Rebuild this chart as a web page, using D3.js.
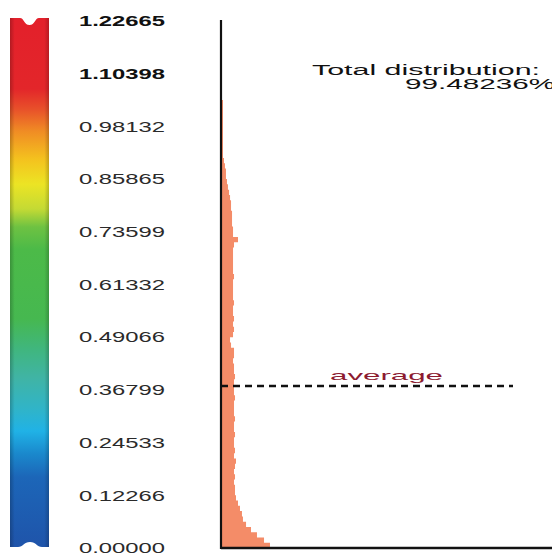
<!DOCTYPE html>
<html lang="en">
<head>
  <meta charset="UTF-8">
  <title>Total distribution</title>
  <script src="https://cdn.jsdelivr.net/npm/d3@7"></script>
  <style>
    body { margin: 0; background: #fff; }
    svg { display: block; font-family: "Liberation Sans", Arial, sans-serif; }
    .tick-label { font-size: 14.5px; fill: #2a2a2a; }
    .tick-label.top { font-weight: bold; fill: #111; }
    .info-text { font-size: 14px; fill: #111; }
    .avg-text { font-size: 13px; fill: #8c1a30; }
  </style>
</head>
<body>
  <div id="container"></div>

  <script>
    // colour bar tick labels (top to bottom)
    const tickLabels = ["1.22665", "1.10398", "0.98132", "0.85865", "0.73599", "0.61332",
                        "0.49066", "0.36799", "0.24533", "0.12266", "0.00000"];

    // histogram: share (%) per bin, bins of equal width from 0 upward
    const binShare = [
      4.44, 3.90, 3.26, 2.72, 2.27, 1.99, 1.90, 1.72, 1.54, 1.36,
      1.27, 1.27, 1.18, 1.27, 1.18, 1.27, 1.36, 1.18, 1.27, 1.18,
      1.18, 1.27, 1.18, 1.18, 1.27, 1.18, 1.18, 1.18, 1.27, 1.18,
      1.18, 1.18, 1.27, 1.18, 1.18, 1.09, 1.18, 1.18, 0.91, 0.82,
      1.09, 1.18, 1.09, 1.18, 1.09, 1.09, 1.18, 1.09, 1.09, 1.09,
      1.09, 1.18, 1.09, 1.09, 1.09, 1.09, 1.09, 1.18, 1.54, 1.09,
      1.09, 1.00, 1.00, 1.00, 0.91, 0.91, 0.82, 0.73, 0.63, 0.54,
      0.45, 0.45, 0.36, 0.27, 0.18, 0.18, 0.18, 0.18, 0.18, 0.18,
      0.18, 0.18, 0.18, 0.18, 0.18, 0, 0, 0, 0, 0,
      0, 0, 0, 0, 0, 0, 0, 0, 0, 0
    ];

    const maxValue = 1.22665;
    const averageValue = 0.377;
    const totalText = ["Total distribution:", "99.48236%"];

    // colour map stops (0 = top of bar, 1 = bottom)
    const colorStops = [
      [0.000, "#e3202b"], [0.134, "#e3262a"], [0.172, "#e8502a"], [0.214, "#f08c24"],
      [0.267, "#f4c21e"], [0.314, "#ece424"], [0.361, "#c4da34"], [0.395, "#6ec242"],
      [0.437, "#4cba48"], [0.569, "#46b850"], [0.626, "#40b67e"], [0.679, "#40b4a4"],
      [0.739, "#30b4c8"], [0.781, "#20b2e6"], [0.824, "#1a88cc"], [0.868, "#1c66b8"],
      [1.000, "#1f54aa"]
    ];

    const width = 552;
    const height = 559;
    const barColor = "#f48c68";

    const svg = d3.select("#container")
      .append("svg")
      .attr("width", width)
      .attr("height", height);

    // scales
    const yScale = d3.scaleLinear()
      .domain([0, maxValue])
      .range([548, 21]);

    const xScale = d3.scaleLinear()
      .domain([0, 30])
      .range([221, 552]);

    const binSize = maxValue / binShare.length;

    // colour bar gradient
    const defs = svg.append("defs");
    const grad = defs.append("linearGradient")
      .attr("id", "cmap")
      .attr("x1", 0).attr("y1", 0)
      .attr("x2", 0).attr("y2", 1);
    grad.selectAll("stop")
      .data(colorStops)
      .enter()
      .append("stop")
      .attr("offset", d => d[0])
      .attr("stop-color", d => d[1]);

    const shade = defs.append("linearGradient")
      .attr("id", "shade")
      .attr("x1", 0).attr("y1", 0)
      .attr("x2", 1).attr("y2", 0);
    shade.append("stop").attr("offset", 0).attr("stop-color", "#000").attr("stop-opacity", 0.22);
    shade.append("stop").attr("offset", 0.12).attr("stop-color", "#000").attr("stop-opacity", 0);
    shade.append("stop").attr("offset", 0.88).attr("stop-color", "#000").attr("stop-opacity", 0);
    shade.append("stop").attr("offset", 1).attr("stop-color", "#000").attr("stop-opacity", 0.2);

    // bar shape with notches at both ends
    const bx0 = 10, bx1 = 49;
    const barTop = yScale(maxValue) - 3, barBottom = yScale(0) - 1;
    const barPath = `M${bx0},${barTop} L20,${barTop} C24,${barTop} 24,${barTop + 7} 29.5,${barTop + 7}
      C35,${barTop + 7} 35,${barTop} 39,${barTop} L${bx1},${barTop}
      L${bx1},${barBottom} L42,${barBottom} C37,${barBottom} 36,${barBottom - 5} 30,${barBottom - 5}
      C24,${barBottom - 5} 23,${barBottom} 18,${barBottom} L${bx0},${barBottom} Z`;

    svg.append("path").attr("d", barPath).attr("fill", "url(#cmap)");
    svg.append("path").attr("d", barPath).attr("fill", "url(#shade)");

    // tick labels
    svg.selectAll(".tick-label")
      .data(tickLabels)
      .enter()
      .append("text")
      .attr("class", (d, i) => i < 2 ? "tick-label top" : "tick-label")
      .attr("x", 79)
      .attr("y", d => yScale(+d))
      .attr("dy", "0.36em")
      .attr("textLength", 86)
      .attr("lengthAdjust", "spacingAndGlyphs")
      .text(d => d);

    // histogram drawn as one stepped area so bins don't show seams
    const steps = binShare.map((d, i) => ({ lo: i * binSize, share: d }));
    steps.push({ lo: maxValue, share: 0 });

    const histArea = d3.area()
      .curve(d3.curveStepBefore)
      .y(d => yScale(d.lo))
      .x0(xScale(0))
      .x1(d => xScale(d.share));

    svg.append("path")
      .datum(steps)
      .attr("d", histArea)
      .attr("fill", barColor);

    // average line
    svg.append("line")
      .attr("x1", xScale(0))
      .attr("x2", 513)
      .attr("y1", yScale(averageValue))
      .attr("y2", yScale(averageValue))
      .attr("stroke", "#111")
      .attr("stroke-width", 2.4)
      .attr("stroke-dasharray", "7 5");

    svg.append("text")
      .attr("class", "avg-text")
      .attr("x", 330)
      .attr("y", yScale(averageValue) - 6)
      .attr("textLength", 113)
      .attr("lengthAdjust", "spacingAndGlyphs")
      .text("average");

    // axes
    svg.append("line")
      .attr("x1", xScale(0)).attr("x2", xScale(0))
      .attr("y1", yScale(maxValue) - 1).attr("y2", yScale(0) + 1)
      .attr("stroke", "#111")
      .attr("stroke-width", 2.2);

    svg.append("line")
      .attr("x1", xScale(0)).attr("x2", width)
      .attr("y1", yScale(0)).attr("y2", yScale(0))
      .attr("stroke", "#111")
      .attr("stroke-width", 2.6);

    // total distribution text
    svg.append("text")
      .attr("class", "info-text")
      .attr("x", 312)
      .attr("y", 75)
      .attr("textLength", 228)
      .attr("lengthAdjust", "spacingAndGlyphs")
      .text(totalText[0]);

    svg.append("text")
      .attr("class", "info-text")
      .attr("x", 405)
      .attr("y", 89)
      .attr("textLength", 150)
      .attr("lengthAdjust", "spacingAndGlyphs")
      .text(totalText[1]);
  </script>
</body>
</html>
